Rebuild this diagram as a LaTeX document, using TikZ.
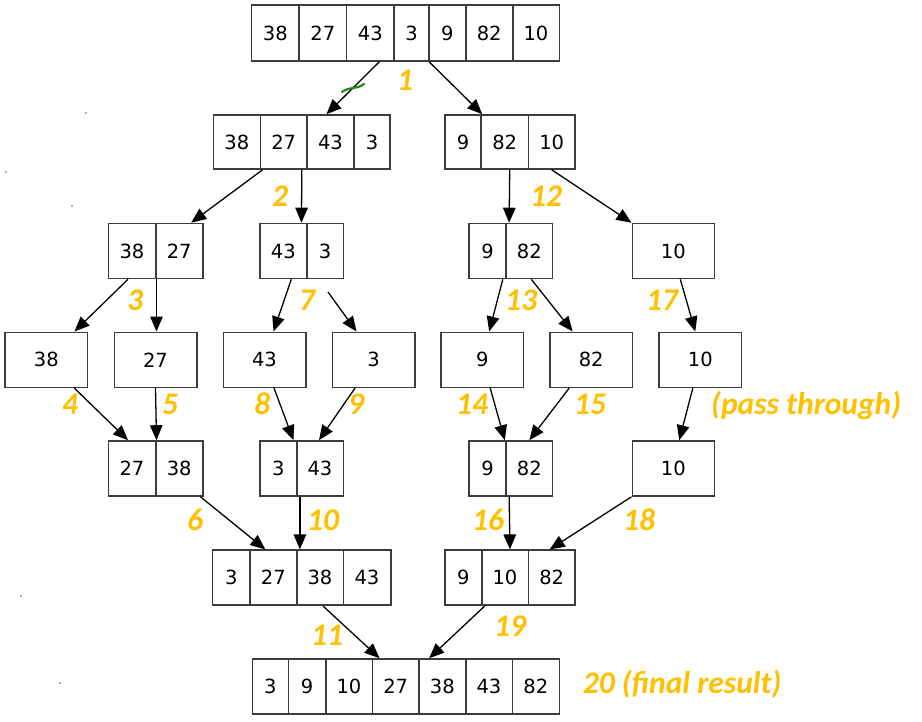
\documentclass[tikz,border=0pt]{standalone}
\usepackage{fontspec}
\newfontfamily\cellfont{DejaVu Sans}
\newfontfamily\stepfont{Carlito}
\usetikzlibrary{arrows.meta}
\definecolor{labcol}{HTML}{FFC000}
\definecolor{boxline}{HTML}{3C3C3C}
\definecolor{speck}{HTML}{1E8C1E}
\begin{document}
\begin{tikzpicture}[x=1pt,y=-1pt,
  cell/.style={draw=boxline, line width=1.6pt, inner sep=0pt, minimum height=55pt,
    font=\cellfont\fontsize{19.5}{20}\selectfont},
  arr/.style={-{Triangle[length=15pt,width=12.5pt]}, line width=1.3pt, black},
  steplab/.style={text=labcol, inner sep=0pt, font=\stepfont\bfseries\itshape\fontsize{31.5}{32}\selectfont}]
\useasboundingbox (0,0) rectangle (922,721);
\fill[white] (0,0) rectangle (922,721);

% Row A
\node[cell, minimum height=56pt, minimum width=47.3pt] (a1) at (275.3,33) {38};
\node[cell, minimum height=56pt, minimum width=47.7pt] (a2) at (322.8,33) {27};
\node[cell, minimum height=56pt, minimum width=47.3pt] (a3) at (370.3,33) {43};
\node[cell, minimum height=56pt, minimum width=35pt]   (a4) at (411.5,33) {3};
\node[cell, minimum height=56pt, minimum width=36.7pt] (a5) at (447.3,33) {9};
\node[cell, minimum height=56pt, minimum width=47pt]   (a6) at (489.2,33) {82};
\node[cell, minimum height=56pt, minimum width=46.6pt] (a7) at (536,33) {10};

% Row B
\node[cell, minimum height=54pt, minimum width=47pt]   (b1) at (236.8,142) {38};
\node[cell, minimum height=54pt, minimum width=46.7pt] (b2) at (283.7,142) {27};
\node[cell, minimum height=54pt, minimum width=47pt]   (b3) at (330.5,142) {43};
\node[cell, minimum height=54pt, minimum width=36pt]   (b4) at (372,142) {3};
\node[cell, minimum height=54pt, minimum width=36pt]   (c1) at (463,142) {9};
\node[cell, minimum height=54pt, minimum width=47.3pt] (c2) at (504.7,142) {82};
\node[cell, minimum height=54pt, minimum width=46.7pt] (c3) at (551.7,142) {10};

% Row C
\node[cell, minimum width=47.4pt] (d1) at (132,251) {38};
\node[cell, minimum width=47pt]   (d2) at (179.2,251) {27};
\node[cell, minimum width=46.7pt] (e1) at (283.3,251) {43};
\node[cell, minimum width=36.6pt] (e2) at (325,251) {3};
\node[cell, minimum width=37pt]   (f1) at (487.5,251) {9};
\node[cell, minimum width=46.7pt] (f2) at (529.3,251) {82};
\node[cell, minimum width=82pt]   (g1) at (673.3,251) {10};

% Row D
\node[cell, minimum width=82.7pt] (h1) at (46.3,359.8) {38};
\node[cell, minimum width=82.4pt] (h2) at (155.5,359.8) {27};
\node[cell, minimum width=82.4pt] (h3) at (264.5,359.8) {43};
\node[cell, minimum width=82.4pt] (h4) at (373.5,359.8) {3};
\node[cell, minimum width=82.3pt] (h5) at (482.2,359.8) {9};
\node[cell, minimum width=82.3pt] (h6) at (591.2,359.8) {82};
\node[cell, minimum width=82.7pt] (h7) at (700.3,359.8) {10};

% Row E
\node[cell, minimum width=47.4pt] (i1) at (132,468.5) {27};
\node[cell, minimum width=47pt]   (i2) at (179.2,468.5) {38};
\node[cell, minimum width=36.7pt] (j1) at (278.3,468.5) {3};
\node[cell, minimum width=46.6pt] (j2) at (320,468.5) {43};
\node[cell, minimum width=37pt]   (k1) at (487.5,468.5) {9};
\node[cell, minimum width=46.7pt] (k2) at (529.3,468.5) {82};
\node[cell, minimum width=82pt]   (l1) at (673.3,468.5) {10};

% Row F
\node[cell, minimum width=37.3pt] (m1) at (231.3,577.7) {3};
\node[cell, minimum width=46.7pt] (m2) at (273.3,577.7) {27};
\node[cell, minimum width=46.6pt] (m3) at (320,577.7) {38};
\node[cell, minimum width=47.4pt] (m4) at (367,577.7) {43};
\node[cell, minimum width=36.7pt] (n1) at (463.3,577.7) {9};
\node[cell, minimum width=46.6pt] (n2) at (505,577.7) {10};
\node[cell, minimum width=46.7pt] (n3) at (551.7,577.7) {82};

% Row G
\node[cell, minimum width=36pt]   (o1) at (270.3,686.5) {3};
\node[cell, minimum width=37.4pt] (o2) at (307,686.5) {9};
\node[cell, minimum width=46.6pt] (o3) at (349,686.5) {10};
\node[cell, minimum width=46.7pt] (o4) at (395.7,686.5) {27};
\node[cell, minimum width=46.7pt] (o5) at (442.3,686.5) {38};
\node[cell, minimum width=46.6pt] (o6) at (489,686.5) {43};
\node[cell, minimum width=47pt]   (o7) at (535.8,686.5) {82};

% free start of the arrow at step 7
\coordinate (s7) at (328,292);

% Arrows
\draw[arr] ([xshift=9pt]a3.south) -- ([xshift=-4pt]b3.north);
\draw[arr] ([xshift=1pt]a5.south west) -- ([xshift=2pt]c2.north west);
\draw[arr] ([xshift=3pt]b2.south west) -- ([xshift=12pt]d2.north);
\draw[arr] ([xshift=-6pt]b2.south east) -- ([xshift=-6pt]e1.north east);
\draw[arr] ([xshift=5pt]c2.south) -- ([xshift=4pt]f2.north west);
\draw[arr] (c3.south) -- (g1.north west);
\draw[arr] ([xshift=-4pt]d1.south) -- ([xshift=-14pt]h1.north east);
\draw[arr] (d1.south east) -- (d1.south east |- h2.north);
\draw[arr] ([xshift=8pt]e1.south) -- ([xshift=9pt]h3.north);
\draw[arr] (s7) -- ([xshift=-17pt]h4.north);
\draw[arr] ([xshift=-4pt]f1.south east) -- ([xshift=7pt]h5.north);
\draw[arr] ([xshift=2pt]f2.south) -- ([xshift=-18.5pt]h6.north);
\draw[arr] ([xshift=7pt]g1.south) -- ([xshift=-5pt]h7.north);
\draw[arr] ([xshift=28pt]h1.south) -- ([xshift=-4pt]i1.north);
\draw[arr] (h2.south) -- (i1.north east);
\draw[arr] ([xshift=9.5pt]h3.south) -- ([xshift=-4pt]j1.north east);
\draw[arr] ([xshift=-18.5pt]h4.south) -- ([xshift=-1pt]j2.north);
\draw[arr] ([xshift=8pt]h5.south) -- ([xshift=-2pt]k1.north east);
\draw[arr] ([xshift=-22pt]h6.south) -- (k2.north);
\draw[arr] ([xshift=-7.5pt]h7.south) -- ([xshift=6pt]l1.north);
\draw[arr] ([xshift=-3pt]i2.south east) -- ([xshift=-8pt]m2.north);
\draw[arr] ([xshift=4pt]j2.south west) -- ([xshift=4pt]m3.north west);
\draw[arr] ([xshift=4pt]k2.south west) -- ([xshift=5pt]n2.north);
\draw[arr] (l1.south west) -- ([xshift=-2pt]n3.north);
\draw[arr] ([xshift=3pt]m3.south) -- ([xshift=8pt]o4.north west);
\draw[arr] ([xshift=2.3pt]n1.south east) -- ([xshift=11pt]o5.north west);

% Step labels
\node[steplab] (l1lab) at (405,80) {1};
\node[steplab] (l2lab) at (280,196.5) {2};
\node[steplab] (l3lab) at (135,300) {3};
\node[steplab] (l4lab) at (70,404) {4};
\node[steplab] (l5lab) at (170,404) {5};
\node[steplab] (l6lab) at (195,520) {6};
\node[steplab] (l7lab) at (307,300) {7};
\node[steplab] (l8lab) at (262,404) {8};
\node[steplab] (l9lab) at (356,404) {9};
\node[steplab] (l10lab) at (323,520) {10};
\node[steplab] (l11lab) at (327,635) {11};
\node[steplab] (l12lab) at (546,196.5) {12};
\node[steplab] (l13lab) at (521,300) {13};
\node[steplab] (l14lab) at (472,404) {14};
\node[steplab] (l15lab) at (590,404) {15};
\node[steplab] (l16lab) at (488,520) {16};
\node[steplab] (l17lab) at (662,300) {17};
\node[steplab] (l18lab) at (639,520) {18};
\node[steplab] (l19lab) at (510,626.5) {19};
\node[steplab, anchor=base west] (passlab) at (711,414) {(pass through)};
\node[steplab, anchor=base west] (finallab) at (582.7,693) {20 (final result)};

% green specks
\draw[speck, line width=2.2pt, line cap=round] (342,92) .. controls (350,86) and (356,90) .. (364,84);
\fill[speck] (86,113) circle (0.8pt);
\fill[speck] (6,172) circle (0.8pt);
\fill[speck] (72,206) circle (0.8pt);
\fill[speck] (21,596) circle (0.8pt);
\fill[speck] (60,683) circle (0.8pt);
\end{tikzpicture}
\end{document}
